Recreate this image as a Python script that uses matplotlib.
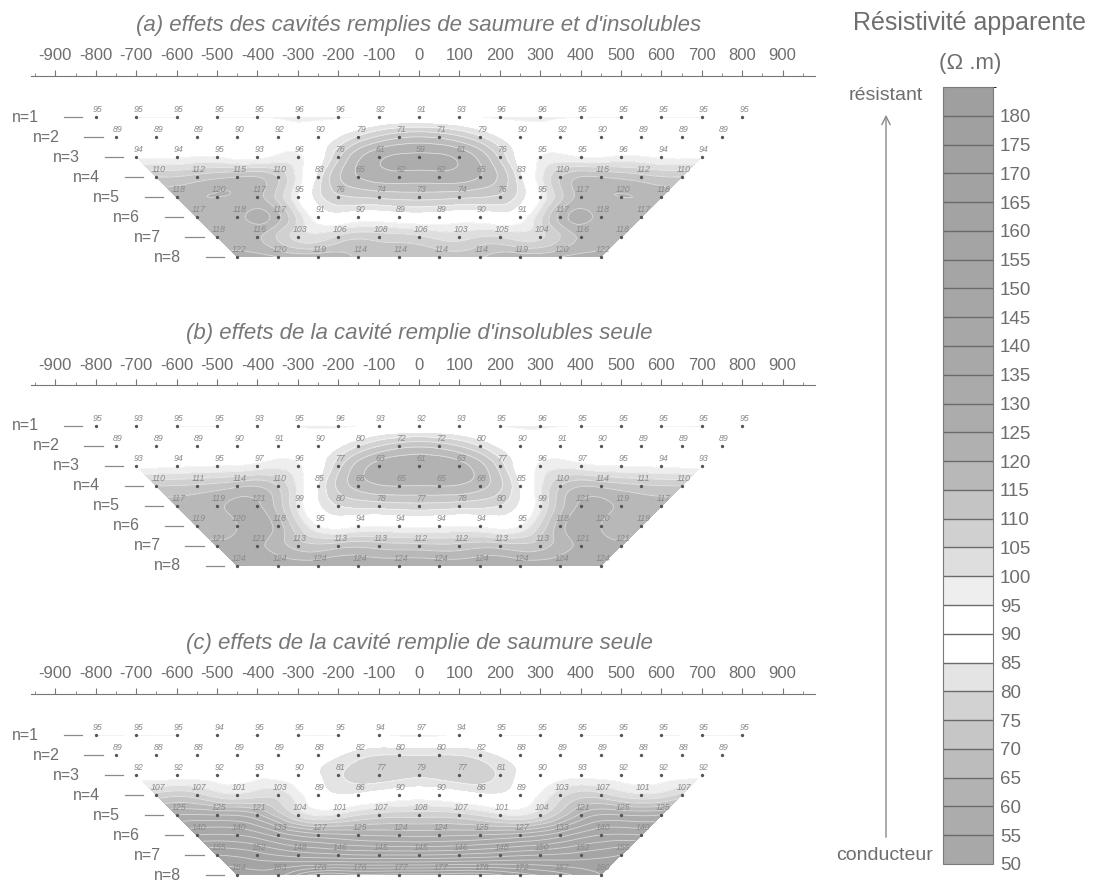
import numpy as np
import matplotlib
matplotlib.use("Agg")
import matplotlib.pyplot as plt
import matplotlib.tri as mtri
from matplotlib.colors import ListedColormap, BoundaryNorm

plt.rcParams['font.family'] = ['Liberation Sans', 'DejaVu Sans']
plt.rcParams['axes.unicode_minus'] = False

# apparent resistivity (ohm.m), one list per pseudo-depth level n=1..8
# (a) effets des cavites remplies de saumure et d'insolubles
a_vals = [
    [95, 95, 95, 95, 95, 96, 96, 92, 91, 93, 96, 96, 95, 95, 95, 95, 95],
    [89, 89, 89, 90, 92, 90, 79, 71, 71, 79, 90, 92, 90, 89, 89, 89],
    [94, 94, 95, 93, 96, 76, 61, 59, 61, 76, 95, 95, 96, 94, 94],
    [110, 112, 115, 110, 83, 65, 62, 62, 65, 83, 110, 115, 112, 110],
    [118, 120, 117, 95, 76, 74, 73, 74, 76, 95, 117, 120, 118],
    [117, 118, 117, 91, 90, 89, 89, 90, 91, 117, 118, 117],
    [118, 116, 103, 106, 108, 106, 103, 105, 104, 116, 118],
    [122, 120, 119, 114, 114, 114, 114, 119, 120, 122],
]
# (b) effets de la cavite remplie d'insolubles seule
b_vals = [
    [95, 93, 95, 95, 93, 95, 96, 93, 92, 93, 95, 96, 95, 95, 95, 95, 95],
    [89, 89, 89, 90, 91, 90, 80, 72, 72, 80, 90, 91, 90, 89, 89, 89],
    [93, 94, 95, 97, 96, 77, 63, 61, 63, 77, 96, 97, 95, 94, 93],
    [110, 111, 114, 110, 85, 68, 65, 65, 68, 85, 110, 114, 111, 110],
    [117, 119, 121, 99, 80, 78, 77, 78, 80, 99, 121, 119, 117],
    [119, 120, 118, 95, 94, 94, 94, 94, 95, 118, 120, 119],
    [121, 121, 113, 113, 113, 112, 112, 113, 113, 121, 121],
    [124, 124, 124, 124, 124, 124, 124, 124, 124, 124],
]
# (c) effets de la cavite remplie de saumure seule
c_vals = [
    [95, 95, 95, 94, 95, 95, 95, 94, 97, 94, 95, 95, 95, 95, 95, 95, 95],
    [89, 88, 88, 89, 89, 88, 82, 80, 80, 82, 88, 89, 89, 88, 88, 89],
    [92, 92, 92, 93, 90, 81, 77, 79, 77, 81, 90, 93, 92, 92, 92],
    [107, 107, 101, 103, 89, 86, 90, 90, 86, 89, 103, 107, 101, 107],
    [125, 125, 121, 104, 101, 107, 108, 107, 101, 104, 121, 125, 125],
    [140, 140, 133, 127, 125, 124, 124, 125, 127, 133, 140, 140],
    [155, 152, 148, 146, 145, 145, 146, 148, 150, 152, 155],
    [164, 163, 178, 176, 177, 177, 178, 172, 167, 160],
]

titles = ["(a) effets des cavités remplies de saumure et d'insolubles",
          "(b) effets de la cavité remplie d'insolubles seule",
          "(c) effets de la cavité remplie de saumure seule"]

levels = np.arange(50, 190, 5)
cbar_ticks = np.arange(50, 185, 5)
greys = [168, 172, 178, 188, 198, 210, 228, 255, 255, 238, 222, 208, 196, 184, 176,
         172, 170, 168, 167, 166, 165, 164, 163, 162, 161, 160, 159]

W, H = 1098, 883
fig = plt.figure(figsize=(W / 100, H / 100), dpi=100)

cmap = ListedColormap([(g / 255, g / 255, g / 255) for g in greys])
norm = BoundaryNorm(levels, cmap.N)

txt = '#6e6e6e'
px_per_n = 20.0


def panel(vals, title, off):
    xs, ns, zs = [], [], []
    for i, row in enumerate(vals):
        n = i + 1
        x0 = -800 + 50 * i
        for j, v in enumerate(row):
            xs.append(x0 + 100 * j)
            ns.append(n)
            zs.append(v)
    xs = np.array(xs, float)
    ns = np.array(ns, float)
    zs = np.array(zs, float)

    n1_px = 117 + off
    n_top, n_bot = -2.5, 9.3
    top_px = n1_px + (n_top - 1) * px_per_n
    bot_px = n1_px + (n_bot - 1) * px_per_n
    ax = fig.add_axes([15 / W, 1 - bot_px / H, 808 / W, (bot_px - top_px) / H])
    ax.set_xlim(-1000, 1000)
    ax.set_ylim(n_bot, n_top)

    # triangulate with n scaled to metres so that the mesh is isotropic
    tri = mtri.Triangulation(xs, ns * 100)
    refiner = mtri.UniformTriRefiner(tri)
    interp = mtri.CubicTriInterpolator(tri, zs, kind='min_E')
    tri2, z2 = refiner.refine_field(zs, interp, subdiv=3)
    tri2 = mtri.Triangulation(tri2.x, tri2.y / 100, tri2.triangles)
    ax.tricontourf(tri2, z2, levels=levels, cmap=cmap, norm=norm)
    ax.tricontour(tri2, z2, levels=levels, colors='white', linewidths=0.6, alpha=0.55)

    ax.plot(xs, ns, 'o', ms=2.4, color='#555555', mec='none')
    for x, n, v in zip(xs, ns, zs):
        ax.annotate(str(int(v)), (x, n), xytext=(1.5, 2.0), textcoords='offset points',
                    ha='center', va='bottom', fontsize=6.3, style='italic', color='#8a8a8a')

    for i in range(len(vals)):
        n = i + 1
        x0 = -800 + 50 * i
        ax.plot([x0 - 78, x0 - 33], [n, n], color='#8a8a8a', lw=0.9)
        ax.text(x0 - 140, n, 'n=%d' % n, ha='right', va='center', fontsize=11.5, color=txt)

    # distance scale on top
    for s in ['left', 'right', 'bottom']:
        ax.spines[s].set_visible(False)
    ax.spines['top'].set_position(('data', 1 - 41 / px_per_n))
    ax.spines['top'].set_bounds(-960, 980)
    ax.spines['top'].set_color('#777777')
    ax.xaxis.tick_top()
    ax.set_xticks(np.arange(-900, 1000, 100))
    ax.set_xticklabels(['%d' % t for t in np.arange(-900, 1000, 100)])
    ax.set_xticks(np.arange(-950, 1000, 50), minor=True)
    ax.tick_params(axis='x', which='major', direction='out', length=4, width=0.8,
                   color='#777777', labelsize=12, labelcolor=txt, pad=5)
    ax.tick_params(axis='x', which='minor', direction='out', length=2, width=0.6,
                   color='#777777')
    ax.set_yticks([])

    fig.text(419 / W, 1 - (25 + off) / H, title, ha='center', va='center',
             fontsize=16, style='italic', color='#777777')


for k, (vals, title) in enumerate(zip([a_vals, b_vals, c_vals], titles)):
    panel(vals, title, 309 * k)

# colour scale
cax = fig.add_axes([943 / W, 1 - 864 / H, 50 / W, (864 - 87) / H])
sm = plt.cm.ScalarMappable(norm=norm, cmap=cmap)
cb = fig.colorbar(sm, cax=cax, boundaries=levels, ticks=cbar_ticks, drawedges=True)
cb.outline.set_edgecolor('#7a7a7a')
cb.dividers.set_color('#6a6a6a')
cb.dividers.set_linewidth(1.0)
cax.tick_params(length=0, labelsize=13.5, labelcolor=txt, pad=5)

fig.text(970 / W, 1 - 23 / H, 'Résistivité apparente', ha='center', va='center',
         fontsize=18, color=txt)
fig.text(970 / W, 1 - 63 / H, '(Ω .m)', ha='center', va='center', fontsize=16, color=txt)
fig.text(886 / W, 1 - 95 / H, 'résistant', ha='center', va='center', fontsize=14, color=txt)
fig.text(885 / W, 1 - 855 / H, 'conducteur', ha='center', va='center', fontsize=14, color=txt)
fig.add_artist(matplotlib.patches.FancyArrowPatch(
    (886 / W, 1 - 840 / H), (886 / W, 1 - 112 / H), transform=fig.transFigure,
    arrowstyle='->,head_length=6,head_width=3', color='#8a8a8a', lw=1.0))

fig.savefig('out.png', dpi=100, facecolor='white')
